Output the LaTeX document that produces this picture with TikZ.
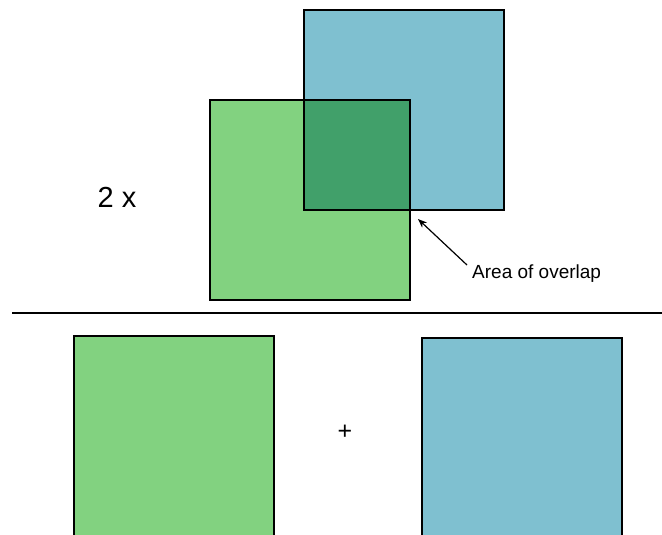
\documentclass[tikz,border=0pt]{standalone}
\usepackage{fontspec}
\setmainfont{Liberation Sans}
\usetikzlibrary{arrows.meta}
\definecolor{sqgreen}{RGB}{130,210,128}
\definecolor{sqblue}{RGB}{127,192,208}
\definecolor{sqdark}{RGB}{65,160,106}
\begin{document}
\begin{tikzpicture}[x=1pt,y=-1pt,
  sq/.style={rectangle,draw=black,line width=2pt,inner sep=0pt,minimum width=200pt,minimum height=200pt},
  tall/.style={sq,minimum height=206pt,anchor=north west},
  lbl/.style={inner sep=0pt,font=\fontsize{19}{21}\selectfont}]
\clip (0,0) rectangle (662,535);
\useasboundingbox (0,0) rectangle (662,535);
% two overlapping squares
\node[sq,draw=none,fill=sqgreen] (g) at (310,200) {};
\node[sq,draw=none,fill=sqblue] (b) at (404,110) {};
\fill[sqdark] (b.south west) rectangle (g.north east);
\node[sq] at (g) {};
\node[sq] at (b) {};
\node[inner sep=0pt,font=\fontsize{29}{32}\selectfont] (two) at (117,197) {2 x};
% label for the overlap
\node[lbl,anchor=west] (ov) at (472,274) {Area of overlap};
\coordinate (tip) at (418,219);
\coordinate (tail) at (467,265);
\draw[line width=1.2pt,-{Stealth[length=9pt,width=7pt]}] (tail) -- (tip);
% dividing line
\coordinate (l1) at (12,313);
\coordinate (l2) at (662,313);
\draw[line width=2.5pt] (l1) -- (l2);
% the two separate squares
\node[tall,fill=sqgreen] (g2) at (73,335) {};
\node[tall,fill=sqblue] (b2) at (421,337) {};
\node[inner sep=0pt,font=\fontsize{25}{27}\selectfont] (plus) at (345,432) {+};
\end{tikzpicture}
\end{document}
